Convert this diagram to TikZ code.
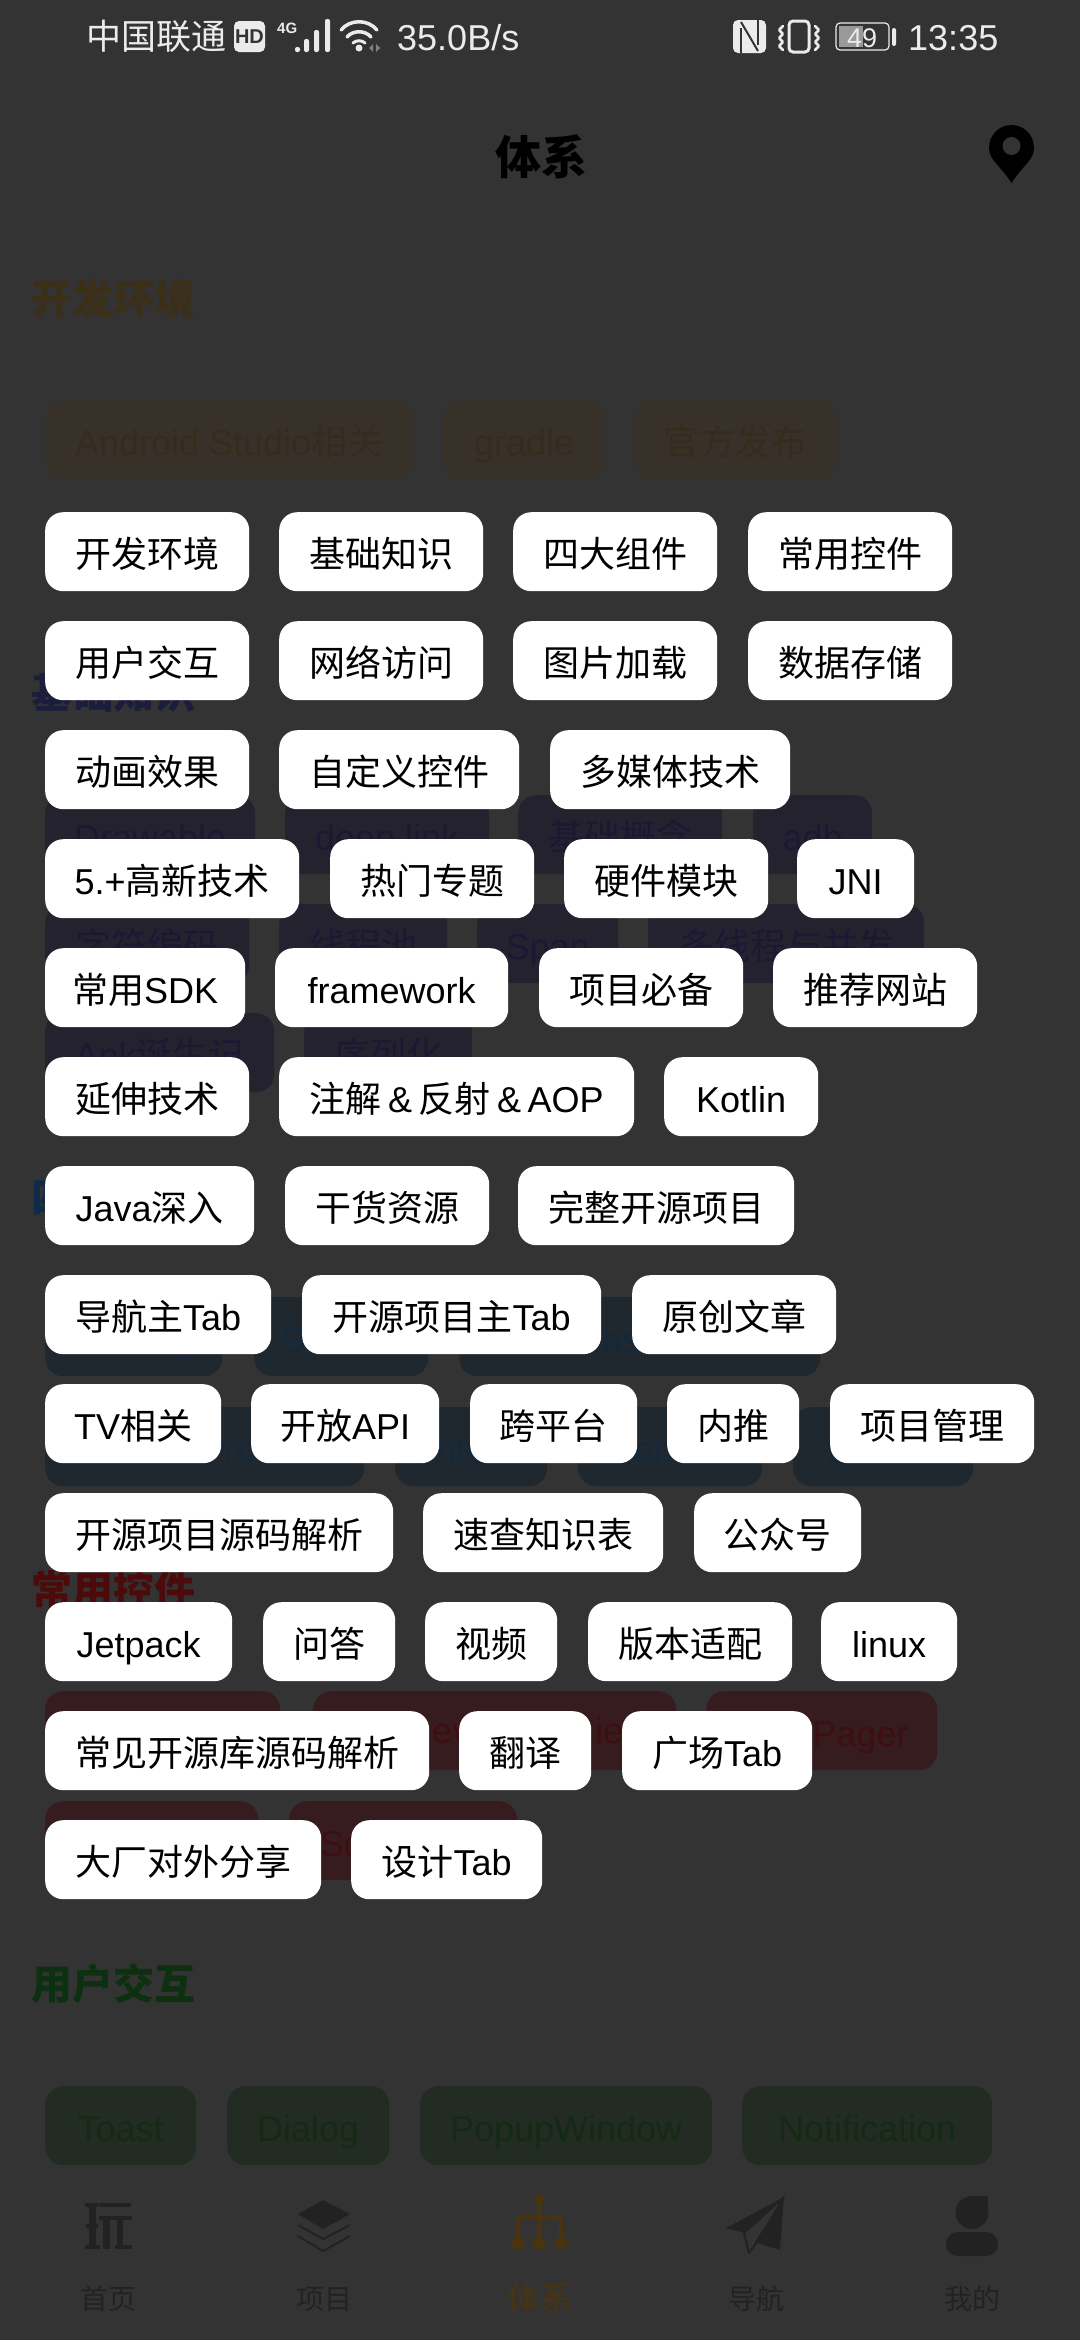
\documentclass[tikz,border=0pt]{standalone}
\usepackage{fontspec}
\usepackage{xcolor}
\setmainfont{Liberation Sans}
\newfontfamily\cjk{Noto Sans CJK SC}
\usepackage{tikz}
\usetikzlibrary{positioning}

\newcommand{\zh}[1]{{\cjk #1}}
\newcommand{\fsize}[1]{\fontsize{#1}{#1}\selectfont}

\definecolor{dimbg}{HTML}{333333}
\definecolor{statuswhite}{HTML}{EBEBEB}
\definecolor{navdark}{HTML}{222222}
\definecolor{navbrown}{HTML}{4A3410}
\definecolor{envfill}{HTML}{38312A}
\definecolor{envtext}{HTML}{352C1E}
\definecolor{envhead}{HTML}{3B2F18}
\definecolor{basefill}{HTML}{252230}
\definecolor{basetext}{HTML}{1B1833}
\definecolor{basehead}{HTML}{1C1C3C}
\definecolor{compfill}{HTML}{20282F}
\definecolor{comptext}{HTML}{14283C}
\definecolor{comphead}{HTML}{0F2A4A}
\definecolor{ctlfill}{HTML}{361C1E}
\definecolor{ctltext}{HTML}{3F0E10}
\definecolor{ctlhead}{HTML}{4C0A0A}
\definecolor{userfill}{HTML}{222C22}
\definecolor{usertext}{HTML}{142A14}
\definecolor{userhead}{HTML}{0C3010}

\tikzset{
  chip/.style={shape=rectangle, rounded corners=18pt, anchor=north west, inner sep=0pt,
    minimum height=79pt, minimum width=#1pt, text height=36pt, text depth=4pt, font=\fsize{36}},
  topic/.style={chip=#1, fill=white, text=black},
  envchip/.style={chip=#1, fill=envfill, text=envtext},
  basechip/.style={chip=#1, fill=basefill, text=basetext},
  compchip/.style={chip=#1, fill=compfill, text=comptext},
  ctlchip/.style={chip=#1, fill=ctlfill, text=ctltext},
  userchip/.style={chip=#1, fill=userfill, text=usertext},
  heading/.style={anchor=base west, inner sep=0pt, font=\cjk\bfseries\fsize{41}},
  statustext/.style={anchor=base west, inner sep=0pt, text=statuswhite, font=\fsize{#1}},
  navlabel/.style={anchor=base, inner sep=0pt, text=navdark, font=\cjk\fsize{28}},
  statusline/.style={draw=statuswhite, line width=#1pt, line cap=round}
}

\begin{document}
\begin{tikzpicture}[x=1pt, y=-1pt]
  \fill[dimbg] (0,0) rectangle (1080,2340);
  \useasboundingbox (0,0) rectangle (1080,2340);

  % status bar
  \node[statustext=35, font=\cjk\fsize{35}] (carrier) at (86,49) {中国联通};
  \node[shape=rectangle, fill=statuswhite, rounded corners=5pt, inner sep=0pt, minimum width=31pt, minimum height=31pt,
    text=dimbg, font=\bfseries\fsize{20}] (hd) at (249.5,36.5) {HD};
  \node[statustext=15, font=\bfseries\fsize{15}] (netType) at (277,33) {4G};
  \fill[statuswhite, rounded corners=2pt] (295,47) rectangle (300,52);
  \fill[statuswhite, rounded corners=2pt] (304,39) rectangle (309,52);
  \fill[statuswhite, rounded corners=2pt] (314,30) rectangle (319,52);
  \fill[statuswhite, rounded corners=2pt] (325,19) rectangle (330,52);
  \draw[statusline=3.5] (341,30) .. controls (350,19) and (368,19) .. (377,30);
  \draw[statusline=3.5] (347,37) .. controls (353,30) and (365,30) .. (371,37);
  \draw[statusline=3] (353,43) .. controls (356,40) and (362,40) .. (365,43);
  \fill[statuswhite] (359,48) circle (3.5);
  \fill[gray] (373,44) -- (373,52) -- (369,48) -- cycle;
  \fill[gray] (376,44) -- (376,52) -- (380,48) -- cycle;
  \node[statustext=36] (speed) at (397,50) {35.0B/s};

  \fill[statuswhite, rounded corners=5pt] (733,20) rectangle (766,53);
  \draw[dimbg, line width=2pt] (741,28) -- (741,53);
  \draw[dimbg, line width=2pt] (741,22) -- (758,51);
  \draw[dimbg, line width=2pt] (758,20) -- (758,45);
  \draw[statuswhite, line width=3pt, rounded corners=4pt] (789,21) rectangle (809,52);
  \draw[statusline=2.5, rounded corners=1pt] (783,26) -- (779,30) -- (783,34) -- (779,38) -- (783,42) -- (779,46) -- (783,50);
  \draw[statusline=2.5, rounded corners=1pt] (815,26) -- (819,30) -- (815,34) -- (819,38) -- (815,42) -- (819,46) -- (815,50);
  \fill[gray!80] (839,26) rectangle (863,47);
  \draw[statuswhite, line width=1.2pt, rounded corners=4pt] (836,23) rectangle (889,50);
  \fill[statuswhite, rounded corners=2pt] (892,28) rectangle (896,46);
  \node[statustext=27] (level) at (847,47) {49};
  \node[statustext=36] (clock) at (908,50) {13:35};

  % title bar
  \node[anchor=base, inner sep=0pt, text=black, font=\cjk\bfseries\fsize{46}] (title) at (541,174) {体系};
  \fill[black] (1011.5,183) .. controls (1000,165) and (989,160) .. (989,148)
    .. controls (989,135) and (999,125) .. (1011.5,125)
    .. controls (1024,125) and (1034,135) .. (1034,148)
    .. controls (1034,160) and (1023,165) .. (1011.5,183) -- cycle;
  \fill[dimbg] (1011.5,146) circle (9);

  % dimmed page
  \node[heading, text=envhead] (envHead) at (31,314.5) {开发环境};
  \node[envchip=368] (envStudio) at (45,400) {Android Studio\zh{相关}};
  \node[envchip=160] (envGradle) at (444,400) {gradle};
  \node[envchip=202] (envRelease) at (634,400) {\zh{官方发布}};

  \node[heading, text=basehead] (baseHead) at (31,708.5) {基础知识};
  \node[basechip=210] (baseDrawable) at (45,795) {Drawable};
  \node[basechip=204] (baseLink) at (285,795) {deep link};
  \node[basechip=204] (baseConcept) at (518,795) {\zh{基础概念}};
  \node[basechip=119] (baseAdb) at (753,795) {adb};
  \node[basechip=204] (baseEncode) at (45,904) {\zh{字符编码}};
  \node[basechip=168] (basePool) at (279,904) {\zh{线程池}};
  \node[basechip=141] (baseSpan) at (477,904) {Span};
  \node[basechip=276] (baseThread) at (648,904) {\zh{多线程与并发}};
  \node[basechip=229] (baseApk) at (45,1013) {Apk\zh{诞生记}};
  \node[basechip=168] (baseSerial) at (304,1013) {\zh{序列化}};

  \node[heading, text=comphead] (compHead) at (31,1212.5) {四大组件};
  \node[compchip=177] (compActivity) at (45,1297) {Activity};
  \node[compchip=174] (compService) at (254,1297) {Service};
  \node[compchip=361] (compBroadcast) at (459,1297) {BroadcastReceiver};
  \node[compchip=319] (compProvider) at (45,1407) {ContentProvider};
  \node[compchip=152] (compIntent) at (395,1407) {Intent};
  \node[compchip=184] (compContext) at (578,1407) {Context};
  \node[compchip=180] (compBundle) at (793,1407) {Bundle};

  \node[heading, text=ctlhead] (ctlHead) at (31,1605.5) {常用控件};
  \node[ctlchip=235] (ctlFirst) at (45,1691) {};
  \node[ctlchip=363] (ctlSecond) at (313,1691) {};
  \node[ctlchip=231] (ctlPager) at (706,1691) {ViewPager\hspace{18pt}};
  \node[anchor=base west, inner sep=0pt, text=ctltext, font=\fsize{36}] (ctlPartA) at (432,1743) {ev};
  \node[anchor=base west, inner sep=0pt, text=ctltext, font=\fsize{36}] (ctlPartB) at (595,1743) {ie};
  \node[ctlchip=213] (ctlThird) at (45,1801) {};
  \node[ctlchip=228] (ctlScroll) at (289,1801) {ScrollView};

  \node[heading, text=userhead] (userHead) at (31,1999.5) {用户交互};
  \node[userchip=151] (userToast) at (45,2086) {Toast};
  \node[userchip=162] (userDialog) at (227,2086) {Dialog};
  \node[userchip=292] (userPopup) at (420,2086) {PopupWindow};
  \node[userchip=250] (userNotice) at (742,2086) {Notification};

  % bottom tabs
  \fill[navdark] (85,2203) rectangle (98,2207);
  \fill[navdark] (86,2224) rectangle (98,2228);
  \fill[navdark] (85,2245) rectangle (100,2249);
  \fill[navdark] (89,2203) rectangle (96,2249);
  \fill[navdark] (99,2203) rectangle (131,2207);
  \fill[navdark] (99,2216) rectangle (132,2220);
  \fill[navdark] (103,2220) rectangle (110,2249);
  \fill[navdark] (117,2220) rectangle (123,2249);
  \fill[navdark] (115,2245) rectangle (132,2249);
  \node[navlabel] (tabHome) at (108,2309) {首页};

  \fill[navdark] (323,2200) -- (350,2214) -- (323,2229) -- (298,2214) -- cycle;
  \draw[navdark, line width=2pt] (298,2225) -- (323,2239) -- (350,2225);
  \draw[navdark, line width=2pt] (298,2236) -- (323,2251) -- (350,2236);
  \node[navlabel] (tabProject) at (324,2309) {项目};

  \draw[navbrown, line width=4pt] (539,2199) -- (539,2243);
  \draw[navbrown, line width=4pt, rounded corners=4pt] (518,2243) -- (518,2217) -- (561,2217) -- (561,2243);
  \fill[navbrown] (539,2199) circle (5);
  \fill[navbrown] (518,2243) circle (6.5);
  \fill[navbrown] (539,2243) circle (6.5);
  \fill[navbrown] (561,2243) circle (6.5);
  \node[navlabel, text=navbrown, font=\cjk\fsize{33}] (tabSystem) at (540,2310) {体系};

  \fill[navdark] (784,2197) -- (726,2228) -- (744,2233) -- cycle;
  \fill[navdark] (784,2197) -- (780,2250) -- (755,2242) -- cycle;
  \draw[navdark, line width=2pt, line join=round] (784,2197) -- (744,2233) -- (749,2253) -- (757,2242) -- cycle;
  \node[navlabel] (tabNavi) at (756,2309) {导航};

  \fill[navdark] (972,2212.5) circle (16.5);
  \fill[navdark] (972,2196) rectangle (988,2212);
  \fill[navdark, rounded corners=12pt] (946,2232) rectangle (998,2256);
  \node[navlabel] (tabMine) at (972,2309) {我的};

  % popup topics
  \node[topic=204] (dev) at (45,512) {\zh{开发环境}};
  \node[topic=204] (base) at (279,512) {\zh{基础知识}};
  \node[topic=204] (comp) at (513,512) {\zh{四大组件}};
  \node[topic=204] (ctl) at (748,512) {\zh{常用控件}};
  \node[topic=204] (user) at (45,621) {\zh{用户交互}};
  \node[topic=204] (net) at (279,621) {\zh{网络访问}};
  \node[topic=204] (pic) at (513,621) {\zh{图片加载}};
  \node[topic=204] (data) at (748,621) {\zh{数据存储}};
  \node[topic=204] (anim) at (45,730) {\zh{动画效果}};
  \node[topic=240] (custom) at (279,730) {\zh{自定义控件}};
  \node[topic=240] (media) at (550,730) {\zh{多媒体技术}};
  \node[topic=254] (newtech) at (45,839) {5.+\zh{高新技术}};
  \node[topic=204] (hot) at (330,839) {\zh{热门专题}};
  \node[topic=204] (hardware) at (564,839) {\zh{硬件模块}};
  \node[topic=117] (jni) at (797,839) {JNI};
  \node[topic=200] (sdk) at (45,948) {\zh{常用}SDK};
  \node[topic=233] (frame) at (275,948) {framework};
  \node[topic=204] (must) at (539,948) {\zh{项目必备}};
  \node[topic=204] (site) at (773,948) {\zh{推荐网站}};
  \node[topic=204] (extend) at (45,1057) {\zh{延伸技术}};
  \node[topic=355] (aop) at (279,1057) {\zh{注解}\hspace{6.5pt}\&\hspace{6.5pt}\zh{反射}\hspace{6.5pt}\&\hspace{6.5pt}AOP};
  \node[topic=154] (kotlin) at (664,1057) {Kotlin};
  \node[topic=209] (java) at (45,1166) {Java\zh{深入}};
  \node[topic=204] (dry) at (285,1166) {\zh{干货资源}};
  \node[topic=276] (full) at (518,1166) {\zh{完整开源项目}};
  \node[topic=226] (navtab) at (45,1275) {\zh{导航主}Tab};
  \node[topic=299] (opentab) at (302,1275) {\zh{开源项目主}Tab};
  \node[topic=204] (article) at (632,1275) {\zh{原创文章}};
  \node[topic=176] (tv) at (45,1384) {TV\zh{相关}};
  \node[topic=188] (api) at (251,1384) {\zh{开放}API};
  \node[topic=167] (cross) at (470,1384) {\zh{跨平台}};
  \node[topic=132] (refer) at (667,1384) {\zh{内推}};
  \node[topic=204] (manage) at (830,1384) {\zh{项目管理}};
  \node[topic=348] (opensrc) at (45,1493) {\zh{开源项目源码解析}};
  \node[topic=240] (sheet) at (423,1493) {\zh{速查知识表}};
  \node[topic=167] (wechat) at (694,1493) {\zh{公众号}};
  \node[topic=187] (jetpack) at (45,1602) {Jetpack};
  \node[topic=132] (qa) at (263,1602) {\zh{问答}};
  \node[topic=132] (video) at (425,1602) {\zh{视频}};
  \node[topic=204] (adapt) at (588,1602) {\zh{版本适配}};
  \node[topic=136] (linux) at (821,1602) {linux};
  \node[topic=384] (libsrc) at (45,1711) {\zh{常见开源库源码解析}};
  \node[topic=132] (trans) at (459,1711) {\zh{翻译}};
  \node[topic=190] (square) at (622,1711) {\zh{广场}Tab};
  \node[topic=276] (share) at (45,1820) {\zh{大厂对外分享}};
  \node[topic=191] (design) at (351,1820) {\zh{设计}Tab};
\end{tikzpicture}
\end{document}
